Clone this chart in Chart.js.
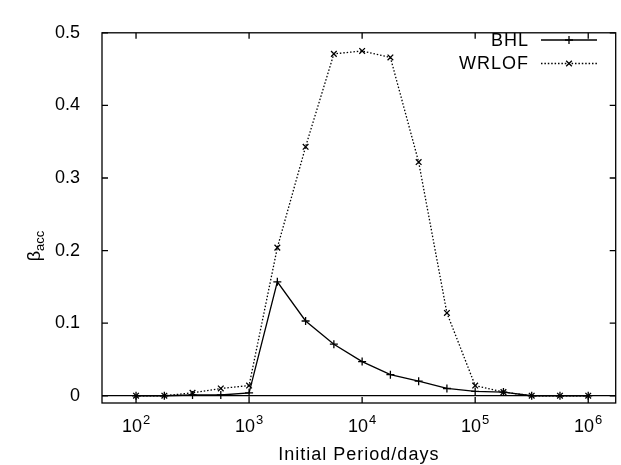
<!DOCTYPE html>
<html>
<head>
<meta charset="utf-8">
<script src="https://cdn.jsdelivr.net/npm/chart.js@4.4.1/dist/chart.umd.min.js"></script>
<style>
  html, body { margin: 0; padding: 0; background: #fff; }
  #wrap { width: 621px; height: 465px; }
</style>
</head>
<body>
<div id="wrap"><canvas id="betaChart" width="621" height="465"></canvas></div>
<script>
// initial orbital periods (days), log spaced
const periods = [100, 178, 316, 562, 1000, 1778, 3162, 5623, 10000, 17783, 31623, 56234, 100000, 177828, 316228, 562341, 1000000];
const bhl = [0, 0, 0.001, 0.001, 0.004, 0.157, 0.103, 0.071, 0.047, 0.029, 0.020, 0.010, 0.006, 0.005, 0, 0, 0];
const wrlof = [0, 0, 0.004, 0.010, 0.014, 0.204, 0.343, 0.471, 0.475, 0.466, 0.322, 0.114, 0.014, 0.005, 0, 0, 0];
const seriesNames = ['BHL', 'WRLOF'];
const xTicks = [100, 1000, 10000, 100000, 1000000];
const yTicks = [0, 0.1, 0.2, 0.3, 0.4, 0.5];
const xTitle = 'Initial Period/days';

const FONT = '"Liberation Sans", Arial, Helvetica, sans-serif';

const toPoints = vals => vals.map((v, i) => ({ x: periods[i], y: v }));

const framePlugin = {
    id: 'gnuplotFrame',
    afterDraw(chart) {
        const { ctx, chartArea: a, scales } = chart;
        const xs = scales.x, ys = scales.y;
        const tl = 6;
        ctx.save();
        ctx.strokeStyle = '#000';
        ctx.lineWidth = 1.3;
        ctx.strokeRect(a.left, a.top, a.right - a.left, a.bottom - a.top);

        ctx.beginPath();
        xTicks.forEach(v => {
            const px = xs.getPixelForValue(v);
            ctx.moveTo(px, a.bottom); ctx.lineTo(px, a.bottom - tl);
            ctx.moveTo(px, a.top); ctx.lineTo(px, a.top + tl);
        });
        yTicks.forEach(v => {
            const py = ys.getPixelForValue(v);
            ctx.moveTo(a.left, py); ctx.lineTo(a.left + tl, py);
            ctx.moveTo(a.right, py); ctx.lineTo(a.right - tl, py);
        });
        ctx.stroke();

        // x tick labels as 10^n
        ctx.fillStyle = '#000';
        ctx.textBaseline = 'alphabetic';
        xTicks.forEach(v => {
            const px = xs.getPixelForValue(v);
            const exp = String(Math.round(Math.log10(v)));
            ctx.font = '18px ' + FONT;
            const wBase = ctx.measureText('10').width;
            ctx.font = '13px ' + FONT;
            const wExp = ctx.measureText(exp).width;
            const x0 = px - (wBase + wExp + 1) / 2;
            ctx.textAlign = 'left';
            ctx.font = '18px ' + FONT;
            ctx.fillText('10', x0, 432);
            ctx.font = '13px ' + FONT;
            ctx.fillText(exp, x0 + wBase + 1, 424);
        });

        // x title
        ctx.font = '18px ' + FONT;
        ctx.textAlign = 'center';
        if ('letterSpacing' in ctx) ctx.letterSpacing = '1px';
        ctx.fillText(xTitle, (a.left + a.right) / 2, 460);
        if ('letterSpacing' in ctx) ctx.letterSpacing = '0px';

        // y title: beta_acc, rotated
        ctx.save();
        ctx.translate(40, 246);
        ctx.rotate(-Math.PI / 2);
        ctx.font = '18px ' + FONT;
        const wb = ctx.measureText('β').width;
        ctx.font = '13px ' + FONT;
        const ws = ctx.measureText('acc').width;
        const start = -(wb + ws) / 2;
        ctx.textAlign = 'left';
        ctx.font = '18px ' + FONT;
        ctx.fillText('β', start, 0);
        ctx.font = '13px ' + FONT;
        ctx.fillText('acc', start + wb, 4);
        ctx.restore();

        // key, gnuplot style: text right, sample on the right
        chart.data.datasets.forEach((ds, i) => {
            const y = 40 + i * 23.5;
            ctx.font = '18px ' + FONT;
            ctx.textAlign = 'right';
            ctx.textBaseline = 'middle';
            if ('letterSpacing' in ctx) ctx.letterSpacing = '1px';
            ctx.fillText(ds.label, 529, y + 1);
            if ('letterSpacing' in ctx) ctx.letterSpacing = '0px';
            ctx.beginPath();
            ctx.setLineDash(ds.borderDash || []);
            ctx.lineWidth = ds.borderWidth;
            ctx.moveTo(541, y); ctx.lineTo(597, y);
            ctx.stroke();
            ctx.setLineDash([]);
            Chart.helpers.drawPoint(ctx, {
                pointStyle: ds.pointStyle,
                radius: ds.pointRadius,
                borderWidth: ds.pointBorderWidth,
                rotation: 0
            }, 569, y);
        });
        ctx.restore();
    }
};

const ctx = document.getElementById('betaChart').getContext('2d');
new Chart(ctx, {
    type: 'line',
    data: {
        datasets: [
            {
                label: seriesNames[0],
                data: toPoints(bhl),
                borderColor: '#000',
                backgroundColor: '#000',
                borderWidth: 1.3,
                pointStyle: 'cross',
                pointRadius: 4,
                pointBorderWidth: 1.3,
                pointBorderColor: '#000',
                tension: 0,
                fill: false
            },
            {
                label: seriesNames[1],
                data: toPoints(wrlof),
                borderColor: '#000',
                backgroundColor: '#000',
                borderWidth: 1.3,
                borderDash: [1.5, 1.9],
                pointStyle: 'crossRot',
                pointRadius: 4,
                pointBorderWidth: 1.3,
                pointBorderColor: '#000',
                tension: 0,
                fill: false
            }
        ]
    },
    options: {
        responsive: false,
        animation: false,
        layout: {
            padding: { top: 21, right: 1, left: 0, bottom: 0 }
        },
        plugins: {
            legend: { display: false },
            tooltip: { enabled: false }
        },
        scales: {
            x: {
                type: 'logarithmic',
                position: 'bottom',
                min: 50,
                max: 1750000,
                afterFit: s => { s.height = 62; },
                afterBuildTicks: s => { s.ticks = xTicks.map(v => ({ value: v })); },
                ticks: { display: false },
                grid: { display: false },
                border: { display: false }
            },
            y: {
                type: 'linear',
                min: -0.01,
                max: 0.5,
                afterFit: s => { s.width = 102; },
                afterBuildTicks: s => { s.ticks = yTicks.map(v => ({ value: v })); },
                ticks: {
                    color: '#000',
                    padding: 22,
                    font: { family: FONT, size: 18 },
                    callback: v => v === 0 ? '0' : v.toFixed(1)
                },
                grid: {
                    drawTicks: false,
                    lineWidth: 1.3,
                    color: c => (c.tick && c.tick.value === 0) ? '#000' : 'rgba(0,0,0,0)'
                },
                border: { display: false }
            }
        }
    },
    plugins: [framePlugin]
});
</script>
</body>
</html>
